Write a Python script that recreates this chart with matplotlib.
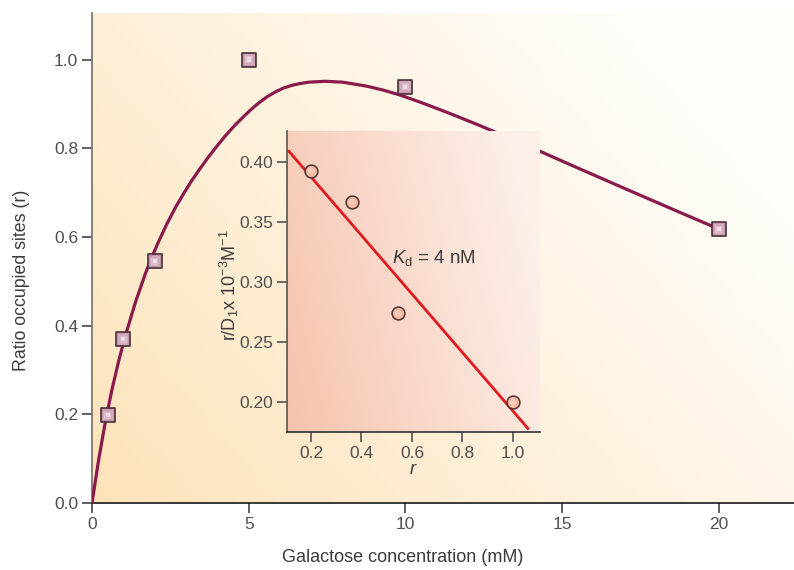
import numpy as np
import matplotlib
matplotlib.use("Agg")
import matplotlib.pyplot as plt
from matplotlib.colors import to_rgb

plt.rcParams['font.family'] = ['Liberation Sans', 'DejaVu Sans']
plt.rcParams['mathtext.fontset'] = 'custom'
plt.rcParams['mathtext.rm'] = 'Liberation Sans'
plt.rcParams['mathtext.it'] = 'Liberation Sans:italic'

# ---- data ----
conc = [0.5, 1, 2, 5, 10, 20]
ratio = [0.198, 0.369, 0.545, 1.0, 0.939, 0.617]

fit_conc = [0, 0.213, 0.426, 0.638, 0.851, 1.064, 1.383, 1.702, 1.915, 2.128,
            2.394, 2.660, 2.926, 3.191, 3.457, 3.723, 3.989, 4.255, 4.521, 4.787,
            5.053, 5.319, 5.585, 5.851, 6.117, 6.383, 6.649, 6.915, 7.181, 7.447,
            8.0, 8.77, 9.3, 9.83, 10.47, 11.4, 12.38, 13.98, 15.58, 17.17, 18.77, 20]
fit_ratio = [0, 0.098, 0.183, 0.256, 0.320, 0.377, 0.452, 0.517, 0.555, 0.590,
             0.630, 0.666, 0.698, 0.728, 0.755, 0.781, 0.805, 0.828, 0.849, 0.868,
             0.886, 0.902, 0.916, 0.927, 0.936, 0.942, 0.946, 0.949, 0.950, 0.951,
             0.949, 0.940, 0.931, 0.920, 0.904, 0.879, 0.851, 0.803, 0.753, 0.704,
             0.655, 0.618]

r_vals = [0.20, 0.362, 0.545, 1.0]
r_over_D = [0.393, 0.367, 0.274, 0.200]
scatchard_r = [0.113, 1.059]
scatchard_fit = [0.409, 0.178]

main_xticks = [0, 5, 10, 15, 20]
main_yticks = [0.0, 0.2, 0.4, 0.6, 0.8, 1.0]
inset_xticks = [0.2, 0.4, 0.6, 0.8, 1.0]
inset_yticks = [0.20, 0.25, 0.30, 0.35, 0.40]


def gradient(ax, c0, c1, wx, wy, gamma=1.0):
    n = 200
    xx, yy = np.meshgrid(np.linspace(0, 1, n), np.linspace(0, 1, n))
    t = np.clip(wx * xx + wy * yy, 0, 1) ** gamma
    a = np.array(to_rgb(c0)); b = np.array(to_rgb(c1))
    img = a[None, None, :] * (1 - t[..., None]) + b[None, None, :] * t[..., None]
    ax.imshow(img, extent=[0, 1, 0, 1], transform=ax.transAxes, origin='lower',
              aspect='auto', zorder=0, interpolation='bilinear')


fig = plt.figure(figsize=(7.94, 5.70), dpi=100)
ax = fig.add_axes([92 / 794, (570 - 503) / 570, 702 / 794, 490 / 570])
gradient(ax, '#fde2b8', '#fffdf8', 0.75, 0.45, 0.9)

tick_col = '#505050'
label_col = '#3a3a3a'
ax.plot(fit_conc, fit_ratio, color='#8a1a4c', lw=2.3, zorder=3,
        solid_capstyle='round', solid_joinstyle='round')
ax.scatter(conc, ratio, marker='s', s=100, facecolor='#c898ac', edgecolor='#4a3038',
           linewidth=1.2, zorder=4)
# soft highlight to mimic the radial shading of the squares
for sz, col in [(55, '#d3a9bb'), (28, '#dfbdcc'), (9, '#eedbe4')]:
    ax.scatter(conc, ratio, marker='s', s=sz, facecolor=col, edgecolor='none', zorder=5)

ax.set_xlim(0, 22.4)
ax.set_ylim(0, 1.105)
ax.set_xticks(main_xticks)
ax.set_yticks(main_yticks)
ax.set_xticklabels([str(v) for v in main_xticks])
ax.set_yticklabels([f'{v:.1f}' for v in main_yticks])
for s in ['top', 'right']:
    ax.spines[s].set_visible(False)
ax.spines['left'].set_color('#7a7a7a')
ax.spines['bottom'].set_color('#2a2a2a')
ax.spines['left'].set_linewidth(1.3)
ax.spines['bottom'].set_linewidth(1.3)
ax.tick_params(axis='both', direction='out', length=7, width=1.2, colors='#444444',
               labelsize=12.5, labelcolor=tick_col, pad=3)
ax.set_xlabel('Galactose concentration (mM)', fontsize=13, color=label_col)
ax.xaxis.set_label_coords((403 - 92) / 702, (503 - 549) / 490)
ax.set_ylabel('Ratio occupied sites (r)', fontsize=12.8, color=label_col)
ax.yaxis.set_label_coords((30 - 92) / 702, (503 - 280) / 490)

# ---- inset ----
ia = fig.add_axes([287 / 794, (570 - 432) / 570, 253 / 794, 301 / 570])
gradient(ia, '#f6c3ad', '#fdf0e9', 0.85, 0.25, 1.0)
ia.plot(scatchard_r, scatchard_fit, color='#e01a1e', lw=2.0, zorder=3)
ia.scatter(r_vals, r_over_D, marker='o', s=85, facecolor='#f6b8a0', edgecolor='#4a3434',
           linewidth=1.1, zorder=4)
ia.scatter(r_vals, r_over_D, marker='o', s=22, facecolor='#f9cbb9', edgecolor='none',
           zorder=5)
ia.set_xlim(0.105, 1.107)
ia.set_ylim(0.175, 0.426)
ia.set_xticks(inset_xticks)
ia.set_yticks(inset_yticks)
ia.set_xticklabels([f'{v:.1f}' for v in inset_xticks])
ia.set_yticklabels([f'{v:.2f}' for v in inset_yticks])
for s in ['top', 'right']:
    ia.spines[s].set_visible(False)
ia.spines['left'].set_color('#555555')
ia.spines['bottom'].set_color('#333333')
ia.spines['left'].set_linewidth(1.2)
ia.spines['bottom'].set_linewidth(1.2)
ia.tick_params(axis='both', direction='out', length=7, width=1.1, colors='#444444',
               labelsize=12.5, labelcolor=tick_col, pad=3)
ia.set_xlabel('$r$', fontsize=13, color=label_col, labelpad=0)
ia.set_ylabel(r'r/D$_\mathrm{1}$x 10$^{\mathrm{-3}}$M$^{\mathrm{-1}}$', fontsize=13,
              color=label_col)
ia.yaxis.set_label_coords((241 - 287) / 253, (432 - 285) / 301)
ia.text(0.52, 0.32, r'$K_\mathrm{d}$ = 4 nM', fontsize=13.5, color=label_col,
        va='center', ha='left', zorder=5)

fig.savefig('out.png', dpi=100)
